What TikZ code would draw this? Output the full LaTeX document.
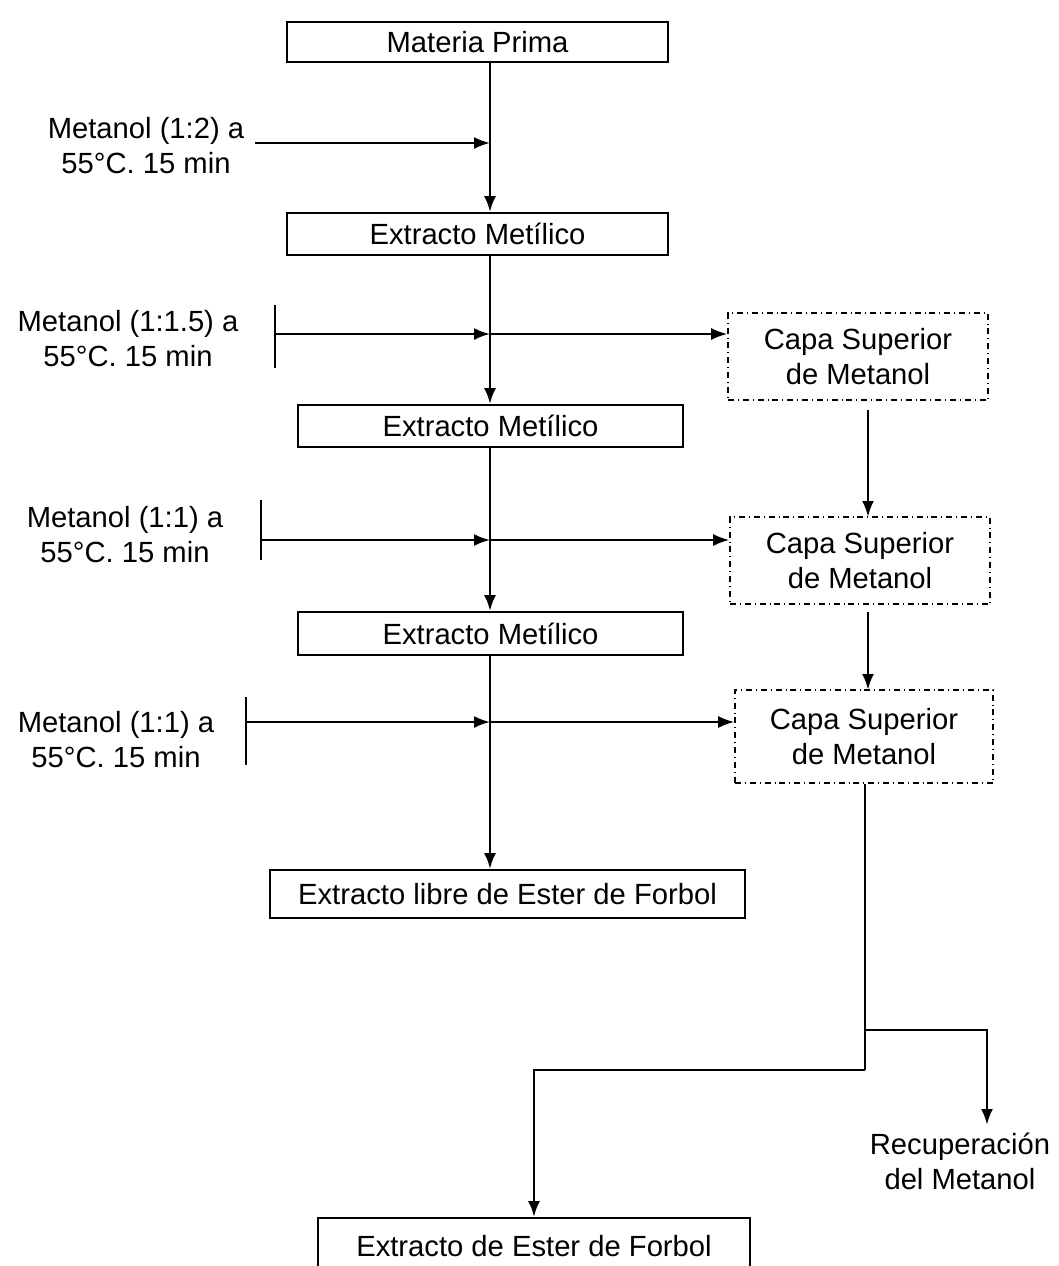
\documentclass[tikz,border=0pt]{standalone}
\usepackage{fontspec}
\setmainfont{Liberation Sans}
\usetikzlibrary{positioning, arrows.meta}

\begin{document}
\begin{tikzpicture}[x=0.5pt, y=-0.5pt,
    every node/.style={font=\fontsize{14.6}{17.5}\selectfont},
    box/.style={draw, line width=0.9pt, inner sep=0pt},
    capa/.style={draw, dash dot, line width=0.8pt, inner sep=0pt, align=center},
    flow/.style={line width=1.4pt, -{Latex[length=8pt,width=6pt]}},
    feed/.style={line width=1pt, -{Latex[length=8pt,width=6pt]}},
    plain/.style={line width=1.4pt}]
        % picture frame (bottom box is cut off)
        \clip (0,0) rectangle (1059,1266);
        \coordinate (axis) at (490,0);
        % main column
        \node[box, minimum width=190.5pt, minimum height=20pt] (mp) at (477.5,42) {Materia Prima};
        \node[box, minimum width=190.5pt, minimum height=21pt] (em1) at (477.5,234) {Extracto Metílico};
        \node[box, minimum width=192.5pt, minimum height=21pt] (em2) at (490.5,426) {Extracto Metílico};
        \node[box, minimum width=192.5pt, minimum height=21.5pt] (em3) at (490.5,633.5) {Extracto Metílico};
        \node[box, minimum width=237.5pt, minimum height=24pt] (libre) at (507.5,894) {Extracto libre de Ester de Forbol};
        \node[box, minimum width=216pt, minimum height=28pt] (ester) at (534,1246) {Extracto de Ester de Forbol};
        % upper methanol layers
        \node[capa, minimum width=130pt, minimum height=43.5pt] (capa1) at (858,356.5) {Capa Superior\\de Metanol};
        \node[capa, minimum width=130pt, minimum height=43.5pt] (capa2) at (860,560.5) {Capa Superior\\de Metanol};
        \node[capa, minimum width=129pt, minimum height=46.5pt] (capa3) at (864,736.5) {Capa Superior\\de Metanol};
        \node[align=center] (rec) at (960,1161) {Recuperación\\del Metanol};
        % solvent inputs
        \node[align=center] (m1) at (146,146) {Metanol (1:2) a\\55°C. 15 min};
        \node[align=center] (m2) at (128,339) {Metanol (1:1.5) a\\55°C. 15 min};
        \node[align=center] (m3) at (125,535) {Metanol (1:1) a\\55°C. 15 min};
        \node[align=center] (m4) at (116,740) {Metanol (1:1) a\\55°C. 15 min};
        % junctions on the main line
        \coordinate (j1) at (490,143);
        \coordinate (j2) at (490,334);
        \coordinate (j3) at (490,540);
        \coordinate (j4) at (490,722);
        % bars in front of the inputs
        \coordinate (b2) at (275,334);
        \coordinate (b3) at (261,540);
        \coordinate (b4) at (246,722);
        \draw[line width=0.9pt] (275,305) -- (275,368);
        \draw[line width=0.9pt] (261,500) -- (261,560);
        \draw[line width=0.9pt] (246,697) -- (246,765);
        % main flow
        \draw[flow] (mp.south -| axis) -- (em1.north -| axis);
        \draw[flow] (em1.south -| axis) -- (em2.north -| axis);
        \draw[flow] (em2.south -| axis) -- (em3.north -| axis);
        \draw[flow] (em3.south -| axis) -- (libre.north -| axis);
        % inputs and separated layers
        \draw[feed] (255,143) -- (j1);
        \draw[feed] (b2) -- (j2);
        \draw[feed] (j2) -- (capa1.west |- j2);
        \draw[feed] (b3) -- (j3);
        \draw[feed] (j3) -- (capa2.west |- j3);
        \draw[feed] (b4) -- (j4);
        \draw[feed] (j4) -- (capa3.west |- j4);
        % layers joined
        \draw[flow] (868,410) -- (868,517);
        \draw[flow] (868,612) -- (868,690);
        % recovery split
        \coordinate (split) at (865,1030);
        \coordinate (turn) at (865,1070);
        \coordinate (recin) at (987,1125);
        \draw[plain] (capa3.south -| split) -- (turn);
        \draw[flow] (turn) -| (ester.north);
        \draw[flow] (split) -| (recin);
\end{tikzpicture}
\end{document}
